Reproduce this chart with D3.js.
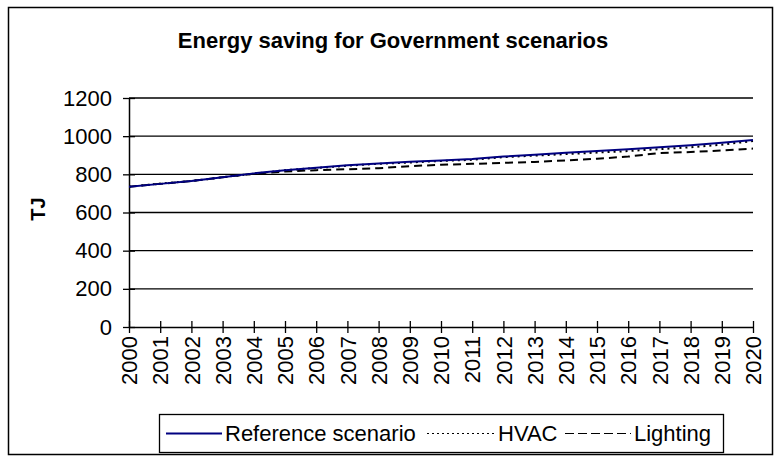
<!DOCTYPE html>
<html>
<head>
<meta charset="utf-8">
<script src="https://cdn.jsdelivr.net/npm/d3@7"></script>
<style>
  body { margin: 0; background: #fff; }
  svg { display: block; font-family: Arial, "Liberation Sans", sans-serif; }
</style>
</head>
<body>
<svg id="chart" width="774" height="456"></svg>
<script>
var years = d3.range(2000, 2021);
var referenceScenario = [735, 750, 765, 785, 805, 822, 835, 848, 857, 866, 873, 880, 893, 903, 913, 922, 932, 942, 953, 965, 980];
var hvac = [735, 752, 765, 785, 803, 822, 833, 845, 855, 862, 870, 876, 890, 898, 906, 914, 922, 932, 942, 955, 975];
var lighting = [735, 750, 765, 785, 803, 815, 822, 827, 832, 843, 850, 855, 860, 865, 873, 882, 893, 912, 917, 925, 935];
var yTicks = [0, 200, 400, 600, 800, 1000, 1200];

var series = [
  {name: 'Reference scenario', values: referenceScenario, color: '#000080', dash: null},
  {name: 'HVAC', values: hvac, color: '#000', dash: '2,4'},
  {name: 'Lighting', values: lighting, color: '#000', dash: '8,5'}
];

var svg = d3.select('#chart');
var font = 'Arial, "Liberation Sans", sans-serif';

// outer frame
svg.append('rect')
  .attr('x', 8.5).attr('y', 7.5)
  .attr('width', 764).attr('height', 447)
  .attr('fill', 'none').attr('stroke', '#000').attr('stroke-width', 1.5);

svg.append('text')
  .attr('x', 393).attr('y', 48)
  .attr('text-anchor', 'middle')
  .attr('font-size', 22).attr('font-weight', 'bold')
  .text('Energy saving for Government scenarios');

var x = d3.scaleLinear().domain([2000, 2020]).range([129, 753]);
var y = d3.scaleLinear().domain([0, 1200]).range([327, 98]);

// gridlines
svg.append('g').selectAll('line')
  .data(yTicks.filter(function(d) { return d > 0; }))
  .enter().append('line')
  .attr('x1', x(2000)).attr('x2', x(2020))
  .attr('y1', function(d) { return y(d); })
  .attr('y2', function(d) { return y(d); })
  .attr('stroke', '#000').attr('stroke-width', 1.3);

// y axis
var yAxis = svg.append('g')
  .attr('transform', 'translate(' + x(2000) + ',0)')
  .call(d3.axisLeft(y).tickValues(yTicks).tickFormat(d3.format('d'))
    .tickSizeInner(6).tickSizeOuter(0).tickPadding(11));
yAxis.selectAll('.tick line').attr('x2', 6).attr('x1', -6).attr('stroke-width', 1.3);
yAxis.select('.domain').attr('stroke-width', 1.5);
yAxis.selectAll('text').attr('font-size', 22).attr('fill', '#000').attr('font-family', font);

// x axis
var xAxis = svg.append('g')
  .attr('transform', 'translate(0,' + y(0) + ')')
  .call(d3.axisBottom(x).tickValues(years).tickFormat(d3.format('d')).tickSizeOuter(0).tickSizeInner(6));
xAxis.selectAll('.tick line').attr('y1', -6).attr('y2', 6).attr('stroke-width', 1.3);
xAxis.select('.domain').attr('stroke-width', 1.5);
xAxis.selectAll('text')
  .attr('font-size', 22).attr('fill', '#000').attr('font-family', font)
  .attr('transform', 'rotate(-90)')
  .attr('x', -9).attr('y', 0).attr('dy', '0.35em')
  .attr('text-anchor', 'end');

// y label
svg.append('text')
  .attr('transform', 'translate(45,209) rotate(-90)')
  .attr('text-anchor', 'middle')
  .attr('font-size', 20).attr('font-weight', 'bold')
  .text('TJ');

var line = d3.line()
  .x(function(d, i) { return x(years[i]); })
  .y(function(d) { return y(d); });

series.slice().reverse().forEach(function(s) {
  svg.append('path')
    .attr('d', line(s.values))
    .attr('fill', 'none')
    .attr('stroke', s.color)
    .attr('stroke-width', 2)
    .attr('stroke-dasharray', s.dash);
});

// legend
var legend = svg.append('g');
legend.append('rect')
  .attr('x', 159.5).attr('y', 414.5)
  .attr('width', 564).attr('height', 38)
  .attr('fill', '#fff').attr('stroke', '#000').attr('stroke-width', 1.3);

var legendX = [166, 427, 565];
var labelX = [225, 498, 634];
series.forEach(function(s, i) {
  legend.append('line')
    .attr('x1', legendX[i]).attr('x2', labelX[i] - 3)
    .attr('y1', 433.5).attr('y2', 433.5)
    .attr('stroke', s.color)
    .attr('stroke-width', i === 0 ? 2 : 1)
    .attr('stroke-dasharray', i === 0 ? null : (i === 1 ? '2,3' : '9,4'));
  legend.append('text')
    .attr('x', labelX[i]).attr('y', 441)
    .attr('font-size', 22)
    .text(s.name);
});
</script>
</body>
</html>
